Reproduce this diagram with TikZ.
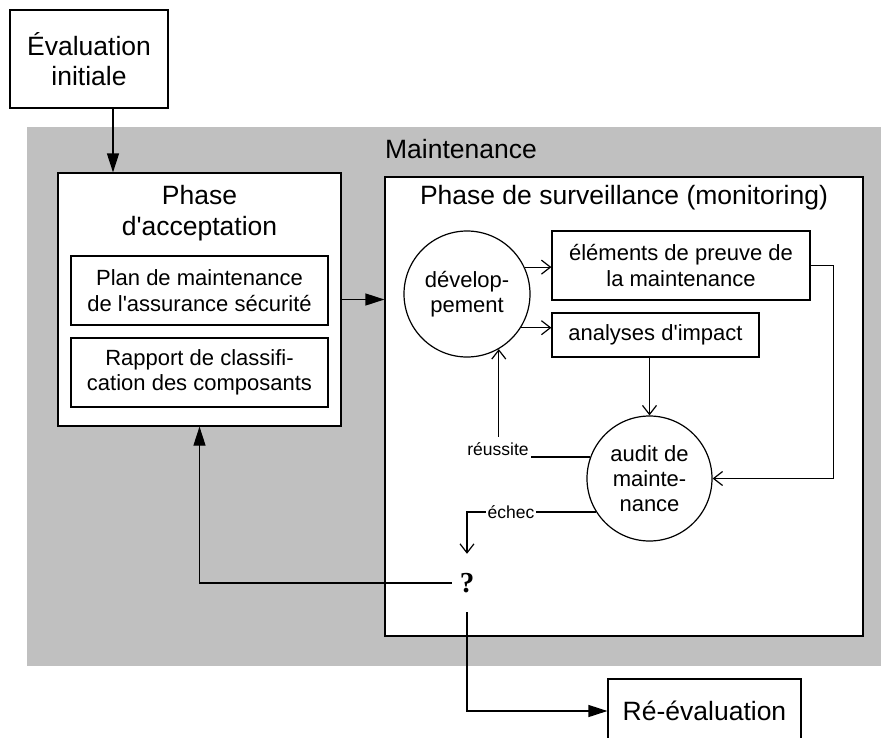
\documentclass[tikz,border=0pt]{standalone}
\usepackage{fontspec}
\setmainfont{Liberation Sans}
\newfontfamily\qfont{Liberation Serif}
\usetikzlibrary{arrows.meta}
\definecolor{bg}{HTML}{C0C0C0}
\newcommand{\apo}{\textquotesingle}
\begin{document}
\begin{tikzpicture}[x=1pt,y=-1pt,
  boxst/.style={draw, line width=1.2pt, fill=white, inner sep=0pt},
  big/.style={font=\fontsize{26.5}{30.5}\selectfont, align=center},
  mid/.style={font=\fontsize{22}{25.3}\selectfont, align=center},
  lbl/.style={font=\fontsize{17.5}{20}\selectfont, fill=white, inner xsep=2pt, inner ysep=5pt},
  fat/.style={line width=1.2pt, -{Triangle[length=19pt,width=12pt]}},
  openarr/.style={line width=1.2pt, -{Straight Barb[length=9pt,width=14pt]}}]
\useasboundingbox (0,0) rectangle (881,737);
\clip (0,0) rectangle (881,737);
% background
\node[fill=bg, minimum width=854, minimum height=539, inner sep=0pt, anchor=north west] (maint) at (27,127) {};
\node[big] (mainttitle) at (461,149) {Maintenance};
% nodes
\node[boxst, big, minimum width=158, minimum height=98] (eval) at (89,59) {Évaluation\\initiale};
\node[boxst, minimum width=283, minimum height=253] (acc) at (199.5,299.5) {};
\node[big] (acctitle) at (199.5,213) {Phase\\d\apo acceptation};
\node[boxst, mid, minimum width=257, minimum height=69] (plan) at (199.5,290.5) {Plan de maintenance\\de l\apo assurance sécurité};
\node[boxst, mid, minimum width=257, minimum height=69] (rapp) at (199.5,372.5) {Rapport de classifi-\\cation des composants};
\node[boxst, minimum width=478, minimum height=459] (surv) at (624,406.5) {};
\node[big] (survtitle) at (624,198) {Phase de surveillance (monitoring)};
\node[boxst, circle, mid, minimum size=126] (dev) at (467,294) {dévelop-\\pement};
\node[boxst, mid, minimum width=258, minimum height=69] (ele) at (681,265.5) {éléments de preuve de\\la maintenance};
\node[boxst, mid, minimum width=207, minimum height=44] (ana) at (655.5,335) {analyses d\apo impact};
\node[boxst, circle, mid, minimum size=125] (aud) at (649.5,478.5) {audit de\\mainte-\\nance};
\node[font=\qfont\bfseries\fontsize{29}{30}\selectfont, minimum width=30, minimum height=58, inner sep=0pt] (q) at (467,583) {?};
\node[boxst, big, minimum width=193, minimum height=64] (reev) at (704.5,711) {Ré-évaluation};
% connectors
\draw[fat] ([xshift=24pt]eval.south) -- ([xshift=24pt]eval.south |- acc.north);
\draw[fat] (acc.east) -- (acc.east -| surv.west);
\draw[openarr] (dev.25) -- (dev.25 -| ele.west);
\draw[openarr] (dev.-32) -- (dev.-32 -| ana.west);
\draw[openarr] (aud.north |- ana.south) -- (aud.north);
\draw[openarr] (ele.east) -- ++(23,0) |- (aud.east);
\draw[openarr] (aud.160) -- (aud.160 -| dev.-60.5) -- (dev.-60.5);
\node[lbl] (lr) at (498,449) {réussite};
\draw[openarr] (aud.212) -| (q.north);
\node[lbl] (le) at (511,512) {échec};
\draw[fat] (q.west) -| (acc.south);
\draw[fat] (q.south) |- (reev.west);
\end{tikzpicture}
\end{document}
